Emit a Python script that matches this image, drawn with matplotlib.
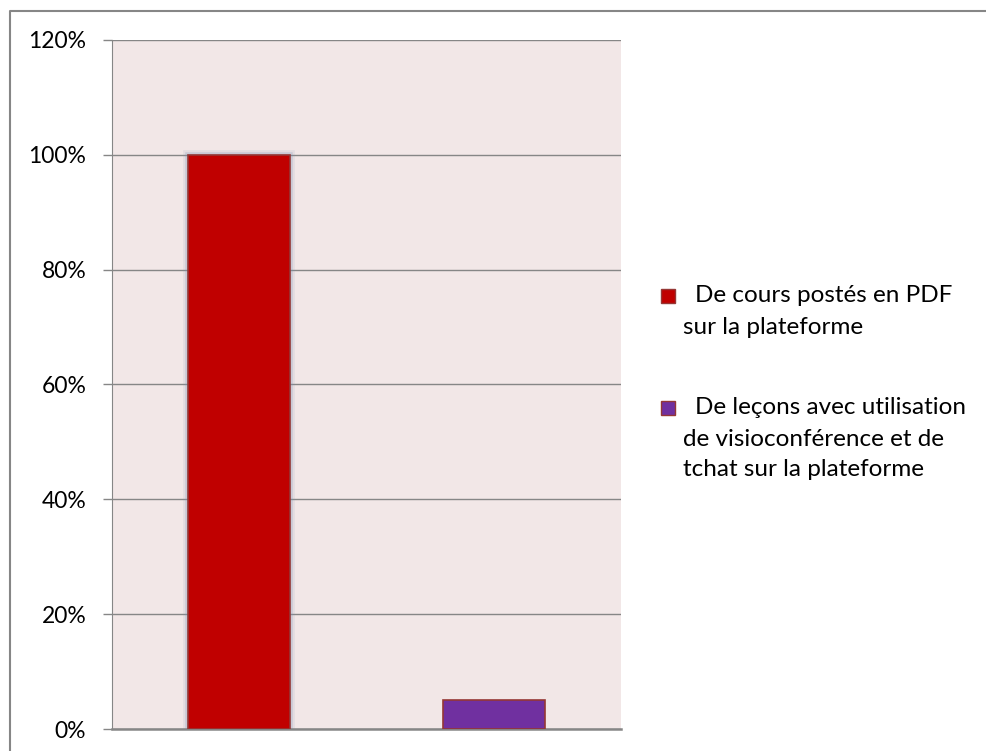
import numpy as np
import matplotlib.pyplot as plt
from matplotlib.patches import Rectangle
from matplotlib.lines import Line2D
from matplotlib.ticker import PercentFormatter

# data
labels = [['De cours postés en PDF', 'sur la plateforme'],
          ['De leçons avec utilisation', 'de visioconférence et de', 'tchat sur la plateforme']]
values = [1.00, 0.05]
colors = ['#C00000', '#7030A0']

plt.rcParams['font.family'] = ['Lato', 'DejaVu Sans']

W, H = 987, 751
fig = plt.figure(figsize=(W/100, H/100), dpi=100)
ax = fig.add_axes([112/W, 1 - 729/H, (621 - 112)/W, (729 - 40)/H])
ax.set_facecolor('#F2E7E7')

x = np.arange(len(values))
# soft glow behind the first bar
for lw, a in [(7, 0.12), (4, 0.25)]:
    ax.bar(x[:1], values[:1], width=0.4, color='none', edgecolor='#7F93B5',
           linewidth=lw, alpha=a, zorder=2)
ax.bar(x, values, width=0.4, color=colors, edgecolor='#953735', linewidth=1.2, zorder=3)

ax.set_xlim(-0.5, 1.5)
ax.set_ylim(0, 1.2)
ax.set_yticks(np.arange(0, 1.21, 0.2))
ax.yaxis.set_major_formatter(PercentFormatter(1.0, decimals=0))
ax.set_xticks([])
ax.grid(axis='y', color='#868686', linewidth=1)
ax.set_axisbelow(True)
ax.tick_params(axis='y', length=6.5, color='#868686', width=1, pad=12, labelsize=16.5)

for s in ['top', 'right']:
    ax.spines[s].set_visible(False)
ax.spines['left'].set_color('#868686')
ax.spines['bottom'].set_color('#868686')
ax.spines['bottom'].set_linewidth(1.8)

# legend, drawn by hand (marker on the first line, Excel style)
item_y = [296, 408]
pitch = 31
for lines, c, y0 in zip(labels, colors, item_y):
    fig.add_artist(Rectangle((661/W, 1 - (y0 + 7)/H), 14/W, 14/H, transform=fig.transFigure,
                             facecolor=c, edgecolor='#953735', linewidth=1))
    for k, line in enumerate(lines):
        tx = 695 if k == 0 else 683
        fig.text(tx/W, 1 - (y0 + k*pitch)/H, line, fontsize=17.5, va='center', ha='left')

# outer chart border (top and left only visible)
fig.add_artist(Line2D([10/W, 10/W, 1.0], [0, 1 - 11/H, 1 - 11/H], transform=fig.transFigure,
                      color='#868686', linewidth=1.5))

fig.savefig('out.png', dpi=100)
